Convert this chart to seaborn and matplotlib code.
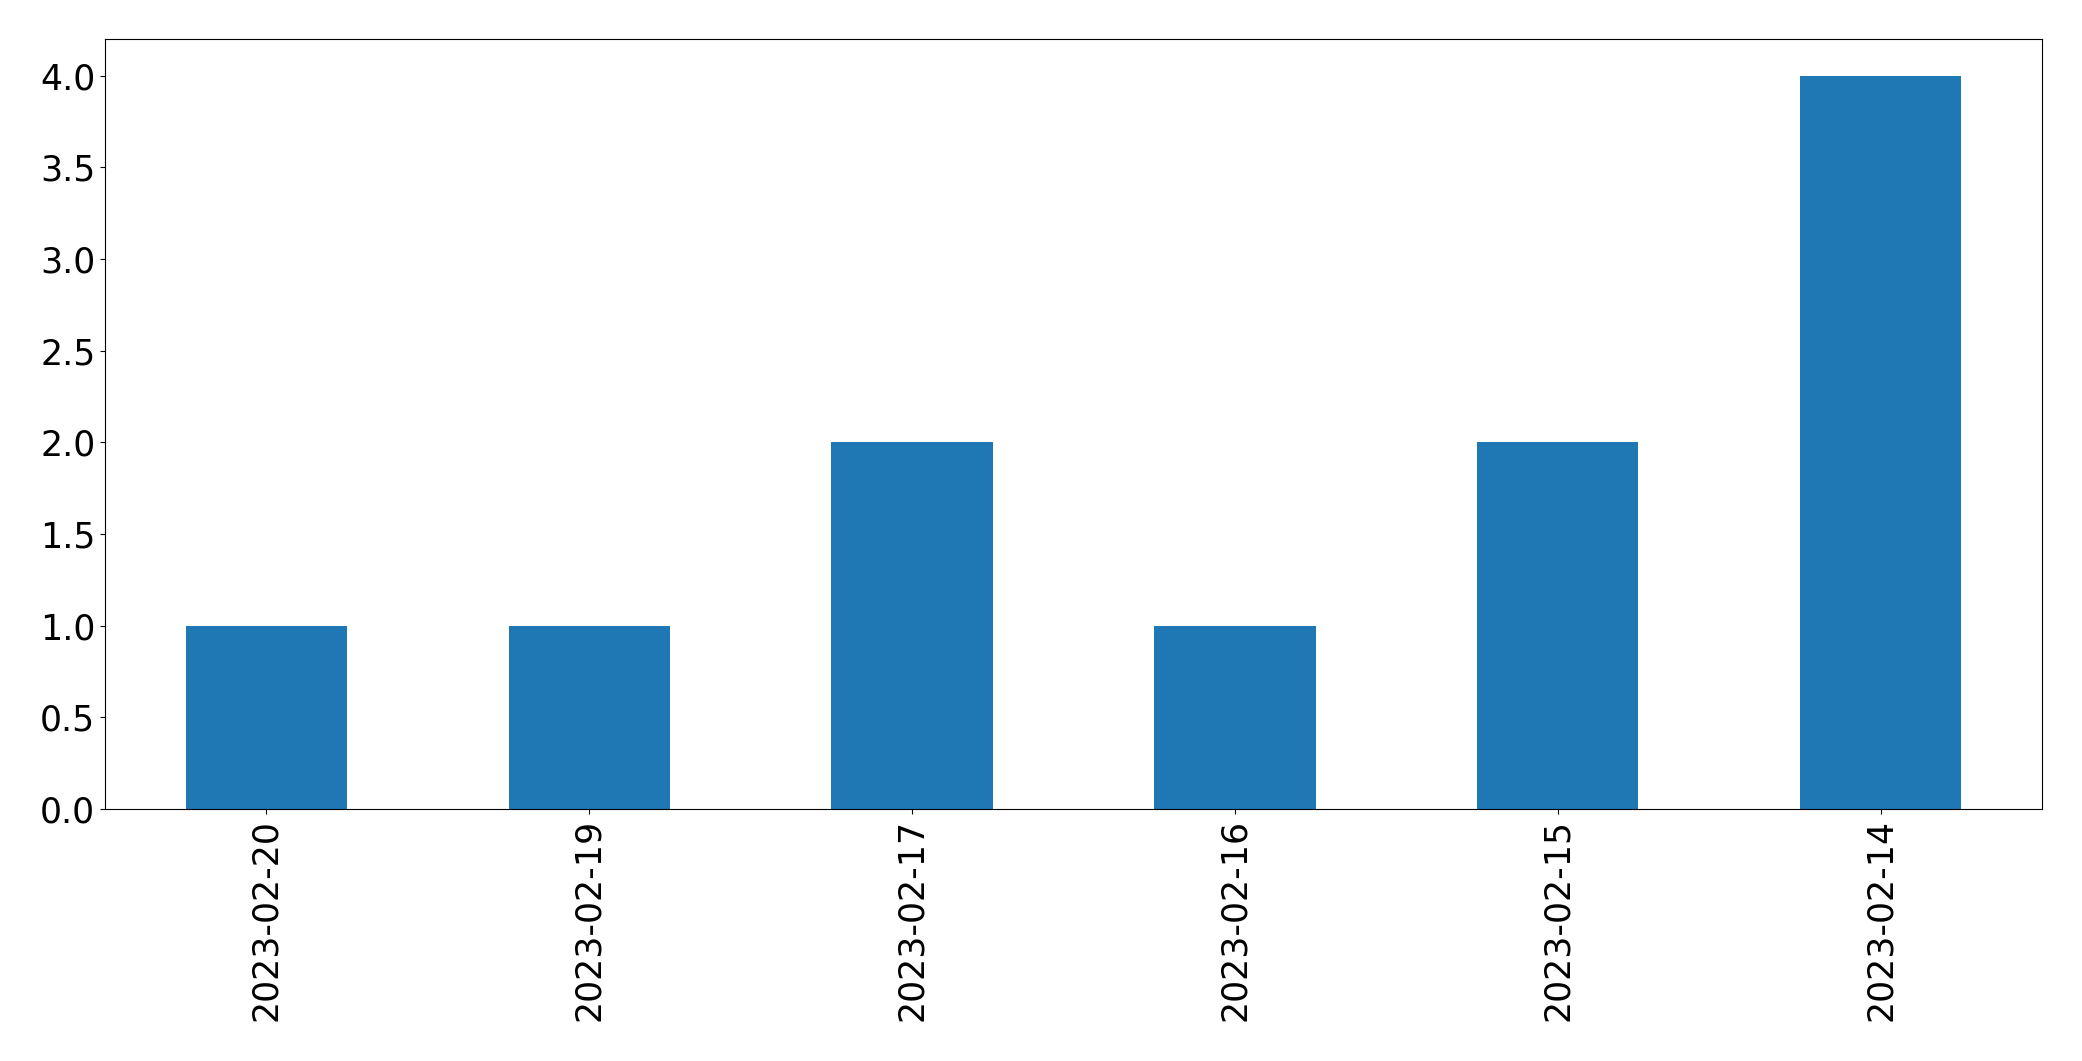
import matplotlib
matplotlib.use("Agg")
import matplotlib.pyplot as plt
import seaborn as sns
import pandas as pd

dates = ["2023-02-20", "2023-02-19", "2023-02-17", "2023-02-16", "2023-02-15", "2023-02-14"]
counts = [1, 1, 2, 1, 2, 4]

plt.rcParams["font.family"] = ["DejaVu Sans"]
df = pd.DataFrame({"date": dates, "count": counts})

fig, ax = plt.subplots(figsize=(20.82, 10.61), dpi=100)
fig.subplots_adjust(left=105/2082, right=2042/2082, top=1-39/1061, bottom=1-809/1061)
sns.barplot(data=df, x="date", y="count", order=dates, width=0.5, color="#1f77b4",
            saturation=1, ax=ax, edgecolor="none", linewidth=0)
ax.set_xlim(-0.5, len(dates) - 0.5)
ax.set_xlabel("")
ax.set_ylabel("")
for s in ax.spines.values():
    s.set_color("black")
ax.tick_params(axis="both", labelsize=25)
ax.tick_params(axis="x", labelrotation=90)
fig.savefig("out.png", dpi=100)
